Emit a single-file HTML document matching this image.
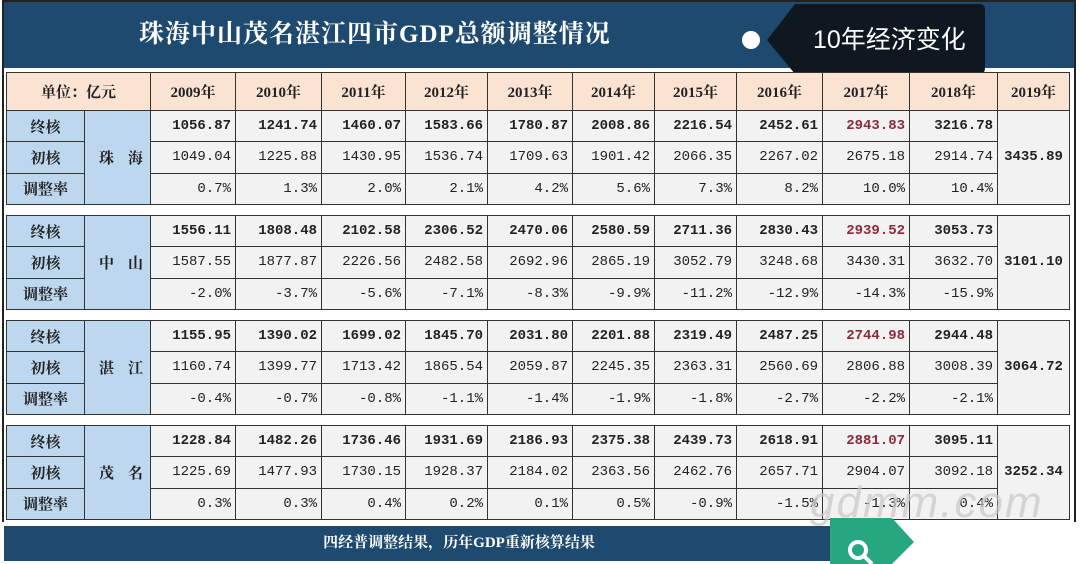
<!DOCTYPE html>
<html><head><meta charset="utf-8"><style>
*{margin:0;padding:0;box-sizing:border-box}
body{width:1080px;height:564px;background:#fff;position:relative;overflow:hidden;font-family:"Liberation Serif","Noto Serif CJK SC",serif}
.frame{position:absolute;left:2px;top:0;width:1074px;height:522px;border:2px solid #222;border-bottom:none}
.title{position:absolute;left:4px;top:2px;width:1070px;height:66px;background:#1e4a70;color:#fff;font-size:25px;line-height:66px;font-weight:bold}
.title span{position:absolute;left:135px;top:0;letter-spacing:1px}
table{position:absolute;left:6px;width:1063px;border-collapse:collapse;table-layout:fixed}
td{border:1px solid #333;height:31.3px;font-size:14px;text-align:right;padding-right:4px;background:#f2f2f2;font-family:"Liberation Mono","Noto Sans CJK SC",monospace;color:#222;white-space:nowrap}
td.l{background:#bdd7ee;text-align:center;padding:0;font-family:"Liberation Serif","Noto Serif CJK SC",serif;font-weight:bold;font-size:15px}
td.c{background:#bdd7ee;text-align:center;padding:0;font-family:"Liberation Serif","Noto Serif CJK SC",serif;font-weight:bold;font-size:15px;letter-spacing:14px;padding-left:14px}
td.y{background:#f2f2f2;text-align:center;padding:0;font-weight:bold;font-size:14px}
tr.b td{font-weight:bold}
td.r{color:#8b2a3a}
.hd td{background:#fbe3d3;text-align:center;padding:0;font-family:"Liberation Serif","Noto Serif CJK SC",serif;font-weight:bold;font-size:15px;height:38px}
.foot{position:absolute;left:4px;top:526px;width:830px;height:35px;background:#1e4a70;color:#fff;font-size:15px;font-weight:bold;line-height:35px;text-align:center;padding-left:80px}
</style></head><body>
<div class="frame"></div>
<div class="title"><span>珠海中山茂名湛江四市GDP总额调整情况</span></div>
<div style="position:absolute;left:742px;top:31px;width:18px;height:18px;border-radius:50%;background:#fff"></div>
<svg style="position:absolute;left:765px;top:4px" width="222" height="70"><path d="M30 0 H214 Q220 0 220 6 V64 Q220 70 214 70 H30 L2 36 Z" fill="#0f1720"/><text x="48" y="44" fill="#fff" font-size="25" font-family="Liberation Sans,Noto Sans CJK SC,sans-serif">10年经济变化</text></svg>
<table style="top:72px"><colgroup><col style="width:78px"><col style="width:66px"><col style="width:85px"><col style="width:86px"><col style="width:84px"><col style="width:82px"><col style="width:85px"><col style="width:82px"><col style="width:82px"><col style="width:86px"><col style="width:87px"><col style="width:88px"><col style="width:72px"></colgroup>
<tr class="hd"><td colspan="2">单位：亿元</td><td>2009年</td><td>2010年</td><td>2011年</td><td>2012年</td><td>2013年</td><td>2014年</td><td>2015年</td><td>2016年</td><td>2017年</td><td>2018年</td><td>2019年</td></tr></table>

<table style="top:110px"><colgroup><col style="width:78px"><col style="width:66px"><col style="width:85px"><col style="width:86px"><col style="width:84px"><col style="width:82px"><col style="width:85px"><col style="width:82px"><col style="width:82px"><col style="width:86px"><col style="width:87px"><col style="width:88px"><col style="width:72px"></colgroup>
<tr class="b"><td class="l">终核</td><td class="c" rowspan="3">珠海</td><td>1056.87</td><td>1241.74</td><td>1460.07</td><td>1583.66</td><td>1780.87</td><td>2008.86</td><td>2216.54</td><td>2452.61</td><td class="r">2943.83</td><td>3216.78</td><td class="y" rowspan="3">3435.89</td></tr>
<tr><td class="l">初核</td><td>1049.04</td><td>1225.88</td><td>1430.95</td><td>1536.74</td><td>1709.63</td><td>1901.42</td><td>2066.35</td><td>2267.02</td><td>2675.18</td><td>2914.74</td></tr>
<tr><td class="l">调整率</td><td>0.7%</td><td>1.3%</td><td>2.0%</td><td>2.1%</td><td>4.2%</td><td>5.6%</td><td>7.3%</td><td>8.2%</td><td>10.0%</td><td>10.4%</td></tr></table>

<table style="top:215px"><colgroup><col style="width:78px"><col style="width:66px"><col style="width:85px"><col style="width:86px"><col style="width:84px"><col style="width:82px"><col style="width:85px"><col style="width:82px"><col style="width:82px"><col style="width:86px"><col style="width:87px"><col style="width:88px"><col style="width:72px"></colgroup>
<tr class="b"><td class="l">终核</td><td class="c" rowspan="3">中山</td><td>1556.11</td><td>1808.48</td><td>2102.58</td><td>2306.52</td><td>2470.06</td><td>2580.59</td><td>2711.36</td><td>2830.43</td><td class="r">2939.52</td><td>3053.73</td><td class="y" rowspan="3">3101.10</td></tr>
<tr><td class="l">初核</td><td>1587.55</td><td>1877.87</td><td>2226.56</td><td>2482.58</td><td>2692.96</td><td>2865.19</td><td>3052.79</td><td>3248.68</td><td>3430.31</td><td>3632.70</td></tr>
<tr><td class="l">调整率</td><td>-2.0%</td><td>-3.7%</td><td>-5.6%</td><td>-7.1%</td><td>-8.3%</td><td>-9.9%</td><td>-11.2%</td><td>-12.9%</td><td>-14.3%</td><td>-15.9%</td></tr></table>

<table style="top:320px"><colgroup><col style="width:78px"><col style="width:66px"><col style="width:85px"><col style="width:86px"><col style="width:84px"><col style="width:82px"><col style="width:85px"><col style="width:82px"><col style="width:82px"><col style="width:86px"><col style="width:87px"><col style="width:88px"><col style="width:72px"></colgroup>
<tr class="b"><td class="l">终核</td><td class="c" rowspan="3">湛江</td><td>1155.95</td><td>1390.02</td><td>1699.02</td><td>1845.70</td><td>2031.80</td><td>2201.88</td><td>2319.49</td><td>2487.25</td><td class="r">2744.98</td><td>2944.48</td><td class="y" rowspan="3">3064.72</td></tr>
<tr><td class="l">初核</td><td>1160.74</td><td>1399.77</td><td>1713.42</td><td>1865.54</td><td>2059.87</td><td>2245.35</td><td>2363.31</td><td>2560.69</td><td>2806.88</td><td>3008.39</td></tr>
<tr><td class="l">调整率</td><td>-0.4%</td><td>-0.7%</td><td>-0.8%</td><td>-1.1%</td><td>-1.4%</td><td>-1.9%</td><td>-1.8%</td><td>-2.7%</td><td>-2.2%</td><td>-2.1%</td></tr></table>

<table style="top:425px"><colgroup><col style="width:78px"><col style="width:66px"><col style="width:85px"><col style="width:86px"><col style="width:84px"><col style="width:82px"><col style="width:85px"><col style="width:82px"><col style="width:82px"><col style="width:86px"><col style="width:87px"><col style="width:88px"><col style="width:72px"></colgroup>
<tr class="b"><td class="l">终核</td><td class="c" rowspan="3">茂名</td><td>1228.84</td><td>1482.26</td><td>1736.46</td><td>1931.69</td><td>2186.93</td><td>2375.38</td><td>2439.73</td><td>2618.91</td><td class="r">2881.07</td><td>3095.11</td><td class="y" rowspan="3">3252.34</td></tr>
<tr><td class="l">初核</td><td>1225.69</td><td>1477.93</td><td>1730.15</td><td>1928.37</td><td>2184.02</td><td>2363.56</td><td>2462.76</td><td>2657.71</td><td>2904.07</td><td>3092.18</td></tr>
<tr><td class="l">调整率</td><td>0.3%</td><td>0.3%</td><td>0.4%</td><td>0.2%</td><td>0.1%</td><td>0.5%</td><td>-0.9%</td><td>-1.5%</td><td>-1.3%</td><td>0.4%</td></tr></table>

<div class="foot">四经普调整结果，历年GDP重新核算结果</div>
<svg style="position:absolute;left:830px;top:518px" width="90" height="46"><path d="M0 0 H62 L84 24 L62 46 H0 Z" fill="#27a780"/><circle cx="28" cy="32" r="8" fill="none" stroke="#fff" stroke-width="4"/><line x1="34" y1="38" x2="42" y2="46" stroke="#fff" stroke-width="4"/></svg>
<div style="position:absolute;left:810px;top:478px;font-size:44px;color:rgba(200,200,200,0.7);font-family:'Liberation Sans',sans-serif;font-style:italic;letter-spacing:2px">gdmm.com</div>
</body></html>
